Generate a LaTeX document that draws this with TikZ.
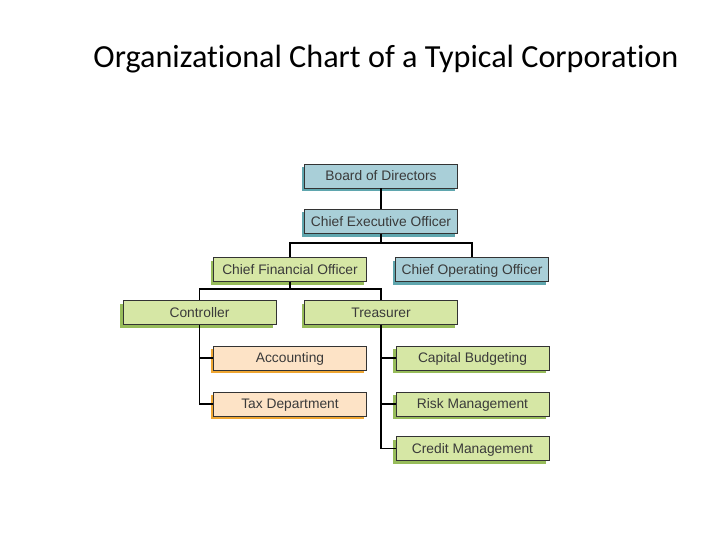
\documentclass[tikz,border=0pt]{standalone}
\usepackage{fontspec}
\setmainfont{Liberation Sans}
\newfontfamily\titlefont[Ligatures=NoCommon]{Carlito}
\usetikzlibrary{shadows}
\definecolor{bluebox}{HTML}{A9CFD8}
\definecolor{blueshade}{HTML}{5FA6AE}
\definecolor{greenbox}{HTML}{D6E7A5}
\definecolor{greenshade}{HTML}{97BC5A}
\definecolor{orangebox}{HTML}{FDE3C6}
\definecolor{orangeshade}{HTML}{EFA632}
\definecolor{boxtext}{HTML}{3A3A3A}
\tikzstyle{post}=[draw=black!80, line width=0.7pt, minimum width=153pt, minimum height=24pt,
  inner sep=0pt, text height=9.9pt, text depth=0pt, text=boxtext, font=\fontsize{13.8}{15}\selectfont]
\tikzstyle{bluepost}=[post, fill=bluebox, drop shadow={shadow xshift=-3pt, shadow yshift=-3pt, fill=blueshade, opacity=1}]
\tikzstyle{greenpost}=[post, fill=greenbox, drop shadow={shadow xshift=-3pt, shadow yshift=-3pt, fill=greenshade, opacity=1}]
\tikzstyle{orangepost}=[post, fill=orangebox, drop shadow={shadow xshift=-3pt, shadow yshift=-3pt, fill=orangeshade, opacity=1}]
\tikzstyle{link}=[line width=1.2pt, black]

\begin{document}
\begin{tikzpicture}[x=1pt,y=-1pt]
    \useasboundingbox (0,0) rectangle (720,540);
    \node [font=\titlefont\fontsize{32.2}{36}\selectfont, anchor=base] (title) at (386,68) {Organizational Chart of a Typical Corporation};

    \node [bluepost] (board) at (381,176) {Board of Directors};
    \node [bluepost] (ceo) at (381,221.5) {Chief Executive Officer};
    \node [greenpost] (cfo) at (290,269.5) {Chief Financial Officer};
    \node [bluepost] (coo) at (472,269.5) {Chief Operating Officer};
    \node [greenpost] (ctrl) at (199.5,312.5) {Controller};
    \node [greenpost] (treas) at (381,312.5) {Treasurer};
    \node [orangepost] (acct) at (290,358) {Accounting};
    \node [orangepost] (tax) at (290,404) {Tax Department};
    \node [greenpost] (capital) at (472.5,358) {Capital Budgeting};
    \node [greenpost] (risk) at (472.5,404) {Risk Management};
    \node [greenpost] (credit) at (472.5,448.5) {Credit Management};

    \coordinate (ceobar) at (381,243);
    \coordinate (cfobar) at (290,289);

    \draw [link] (board) -- (ceo);
    \draw [link] (ceo) -- (ceobar) -| (cfo);
    \draw [link] (ceobar) -| (coo);
    \draw [link] (cfo) -- (cfobar) -| (ctrl);
    \draw [link] (cfobar) -| (treas);
    \draw [link] (ctrl) |- (acct);
    \draw [link] (ctrl) |- (tax);
    \draw [link] (treas) |- (capital);
    \draw [link] (treas) |- (risk);
    \draw [link] (treas) |- (credit);
\end{tikzpicture}
\end{document}
